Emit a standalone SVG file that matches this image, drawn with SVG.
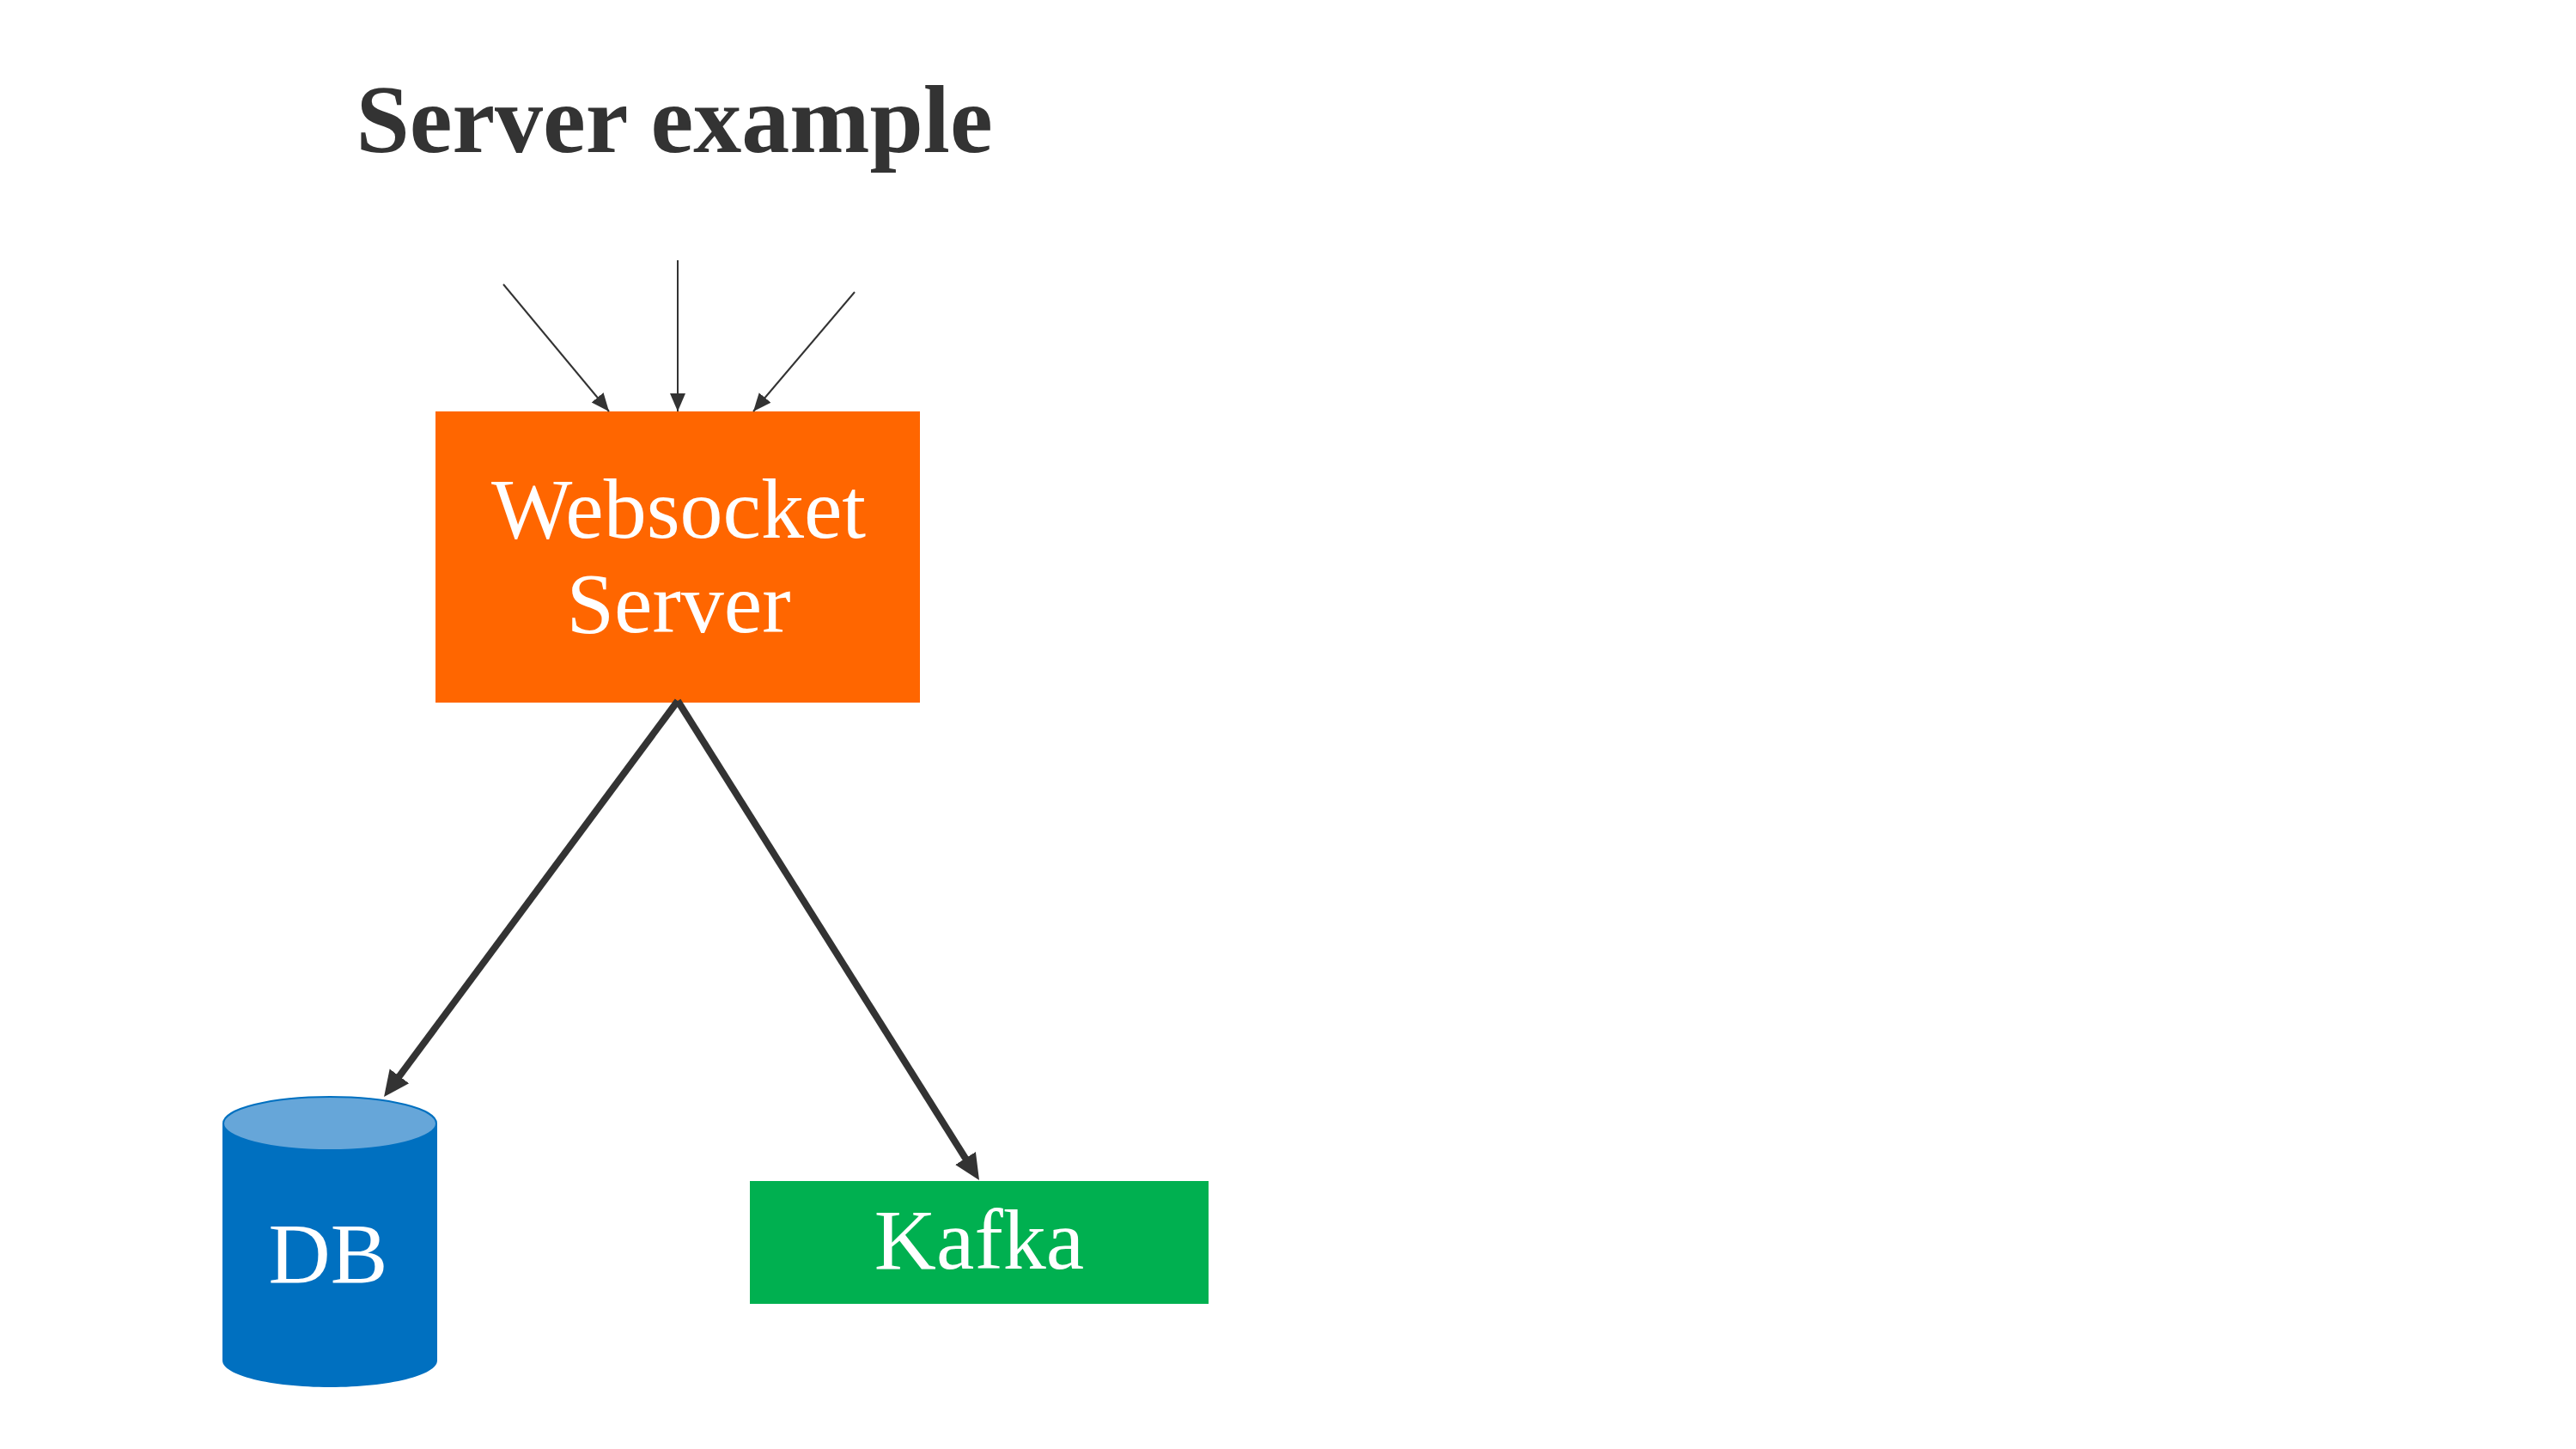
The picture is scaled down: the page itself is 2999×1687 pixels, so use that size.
<svg xmlns="http://www.w3.org/2000/svg" width="2999" height="1687" viewBox="0 0 2999 1687">
<style>
text{font-family:"Liberation Serif","Times New Roman",serif;text-anchor:middle}
.label{font-size:100px;fill:#fff}
.title{font-size:112px;font-weight:bold;fill:#333}
.thin{stroke:#333;stroke-width:2;fill:none}
.thick{stroke:#333;stroke-width:8;fill:none}
</style>
<defs>
<marker id="headS" markerUnits="userSpaceOnUse" markerWidth="24" markerHeight="24" viewBox="0 0 24 24" refX="21" refY="12" orient="auto"><path d="M0 3L21 12L0 21Z" fill="#333"/></marker>
<marker id="headL" markerUnits="userSpaceOnUse" markerWidth="36" markerHeight="36" viewBox="0 0 36 36" refX="18" refY="18" orient="auto"><path d="M0 4L30 18L0 32Z" fill="#333"/></marker>
</defs>
<rect width="2999" height="1687" fill="#fff"/>
<g id="title"><text class="title" x="785" y="177">Server example</text></g>
<g id="websocket-server">
<rect x="507" y="479" width="564" height="339" fill="#FF6600"/>
<text class="label" x="790" y="626">Websocket</text>
<text class="label" x="790" y="736">Server</text>
</g>
<g id="db">
<path d="M259 1308V1584C259 1601 315 1615 384 1615S509 1601 509 1584V1308Z" fill="#0070C0"/>
<ellipse cx="384" cy="1308" rx="124" ry="31" fill="#66A6D9" stroke="#0070C0" stroke-width="2"/>
<text class="label" x="382" y="1493">DB</text>
</g>
<g id="kafka">
<rect x="873" y="1375" width="534" height="143" fill="#00B050"/>
<text class="label" x="1140" y="1477">Kafka</text>
</g>
<g id="connectors">
<line class="thin" x1="586" y1="331" x2="709" y2="479" marker-end="url(#headS)"/>
<line class="thin" x1="789" y1="303" x2="789" y2="479" marker-end="url(#headS)"/>
<line class="thin" x1="995" y1="340" x2="877" y2="479" marker-end="url(#headS)"/>
<line class="thick" x1="789" y1="816" x2="454.2" y2="1267.4" marker-end="url(#headL)"/>
<line class="thick" x1="789" y1="816" x2="1133.6" y2="1363.8" marker-end="url(#headL)"/>
</g>
</svg>
